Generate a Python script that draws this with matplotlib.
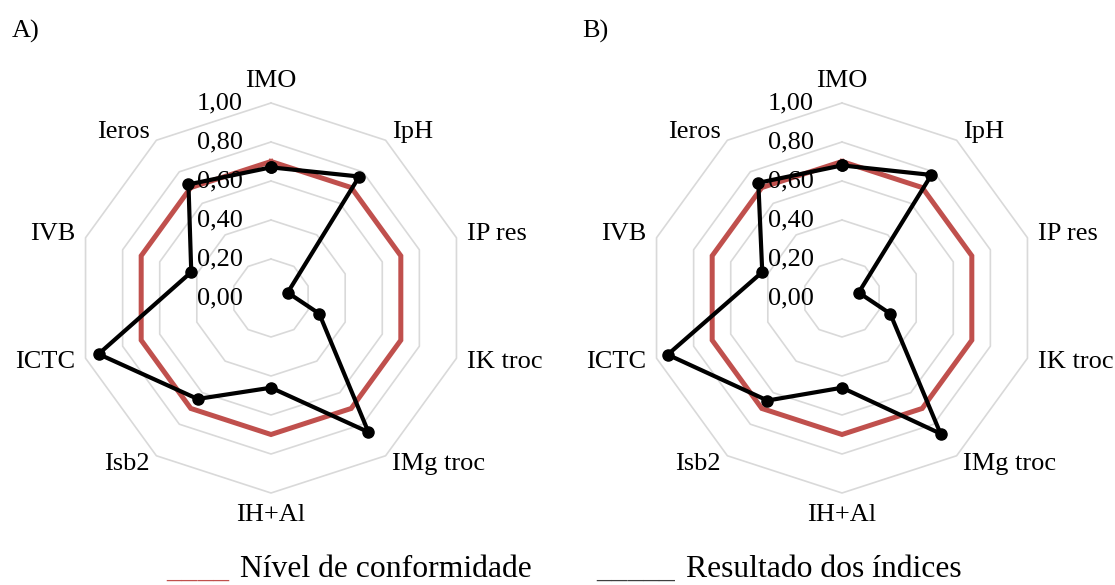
import numpy as np
import matplotlib
matplotlib.use('Agg')
import matplotlib.pyplot as plt

plt.rcParams['font.family'] = ['Liberation Serif', 'DejaVu Serif']

# dados
categorias = ['IMO', 'IpH', 'IP res', 'IK troc', 'IMg troc',
              'IH+Al', 'Isb2', 'ICTC', 'IVB', 'Ieros']
nivel = [0.70] * 10
resultado_a = [0.67, 0.77, 0.09, 0.26, 0.85, 0.46, 0.64, 0.93, 0.43, 0.72]
resultado_b = [0.68, 0.78, 0.09, 0.26, 0.86, 0.46, 0.65, 0.94, 0.43, 0.73]
niveis_grade = [0.2, 0.4, 0.6, 0.8, 1.0]
rotulos_grade = ['0,00', '0,20', '0,40', '0,60', '0,80', '1,00']

W, H = 1115, 585
R = 195.0  # px por unidade
lim = 1.35

fig = plt.figure(figsize=(W / 100, H / 100), dpi=100)

ang = np.arange(len(categorias)) * 2 * np.pi / len(categorias)


def radar(cx, cy, valores, letra, lx):
    ax = fig.add_axes([(cx - lim * R) / W, (H - cy - lim * R) / H,
                       2 * lim * R / W, 2 * lim * R / H])
    ax.set_xlim(-lim, lim)
    ax.set_ylim(-lim, lim)
    ax.axis('off')

    # grade decagonal
    for g in niveis_grade:
        gx = np.append(g * np.sin(ang), 0)
        gy = np.append(g * np.cos(ang), g)
        ax.plot(gx, gy, color='#D9D9D9', lw=1.2, zorder=1)

    # rótulos do eixo
    for i, t in enumerate(rotulos_grade):
        ax.text(-28 / R, i * 0.2, t, ha='right', va='center',
                fontsize=19, zorder=5)

    # nível de conformidade
    v = np.array(nivel)
    ax.plot(np.append(v * np.sin(ang), v[0] * np.sin(ang[0])),
            np.append(v * np.cos(ang), v[0] * np.cos(ang[0])),
            color='#C0504D', lw=3.6, zorder=2, solid_joinstyle='miter')

    # resultado
    v = np.array(valores)
    ax.plot(np.append(v * np.sin(ang), v[0] * np.sin(ang[0])),
            np.append(v * np.cos(ang), v[0] * np.cos(ang[0])),
            color='black', lw=3.0, marker='o', ms=8, zorder=3)

    # categorias
    rl = 1.055
    for a, c in zip(ang, categorias):
        s, co = np.sin(a), np.cos(a)
        ha = 'left' if s > 0.1 else ('right' if s < -0.1 else 'center')
        va = 'bottom' if co > 0.95 else ('top' if co < -0.95 else 'center')
        ax.text(rl * s, rl * co, c, ha=ha, va=va, fontsize=19)

    fig.text(lx / W, 1 - 38 / H, letra, fontsize=19, va='baseline')


radar(271, 298, resultado_a, 'A)', 12)
radar(842, 298, resultado_b, 'B)', 582)

# legenda
yb = 1 - 577 / H
fs = 22.8
fig.text(166 / W, yb, '____', color='#C0504D', fontsize=fs, va='baseline')
fig.text(240 / W, yb, 'Nível de conformidade', fontsize=fs, va='baseline')
fig.text(596 / W, yb, '_____', color='#404040', fontsize=fs, va='baseline')
fig.text(686 / W, yb, 'Resultado dos índices', fontsize=fs, va='baseline')

fig.savefig('out.png', dpi=100)
